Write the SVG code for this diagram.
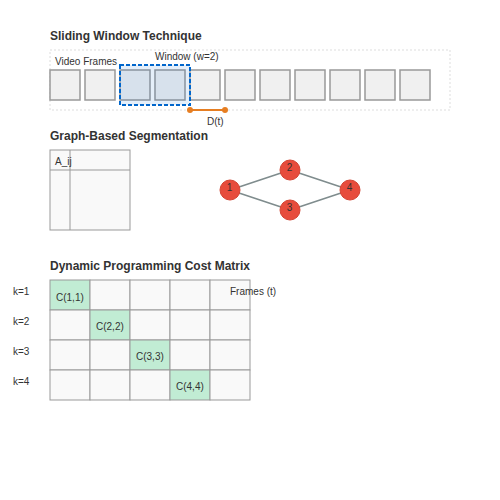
<svg xmlns="http://www.w3.org/2000/svg" width="500" height="500" viewBox="0 0 500 500">
<style>
text{font-family:"Liberation Sans",Arial,sans-serif;fill:#333;font-size:10px}
.title{font-size:12px;font-weight:bold}
.frame{fill:#f0f0f0;stroke:#999;stroke-width:1.5}
.cell{fill:#f9f9f9;stroke:#999;stroke-width:1}
.diag{fill:#c1ecd4;stroke:#999;stroke-width:1}
.node{fill:#e74c3c;stroke:#d44535;stroke-width:1}
.edge{stroke:#7f8c8d;stroke-width:1.5;fill:none}
.lbl{text-anchor:middle}
</style>
<rect width="500" height="500" fill="#ffffff"/>
<g id="sliding-window">
<text class="title" x="50" y="40">Sliding Window Technique</text>
<rect x="50" y="50" width="400" height="60" fill="none" stroke="#ddd" stroke-width="1" stroke-dasharray="2,2"/>
<text x="55" y="65">Video Frames</text>
<rect class="frame" x="50" y="70" width="30" height="30"/>
<rect class="frame" x="85" y="70" width="30" height="30"/>
<rect class="frame" x="120" y="70" width="30" height="30"/>
<rect class="frame" x="155" y="70" width="30" height="30"/>
<rect class="frame" x="190" y="70" width="30" height="30"/>
<rect class="frame" x="225" y="70" width="30" height="30"/>
<rect class="frame" x="260" y="70" width="30" height="30"/>
<rect class="frame" x="295" y="70" width="30" height="30"/>
<rect class="frame" x="330" y="70" width="30" height="30"/>
<rect class="frame" x="365" y="70" width="30" height="30"/>
<rect class="frame" x="400" y="70" width="30" height="30"/>
<rect id="window" x="120" y="65" width="70" height="40" fill="#0066cc" fill-opacity="0.1" stroke="#0066cc" stroke-width="2" stroke-dasharray="4,2"/>
<text x="155" y="60">Window (w=2)</text>
<line x1="190" y1="110" x2="225" y2="110" stroke="#e67e22" stroke-width="2"/>
<circle cx="190" cy="110" r="3" fill="#e67e22"/>
<circle cx="225" cy="110" r="3" fill="#e67e22"/>
<text x="207" y="125">D(t)</text>
</g>
<g id="graph-segmentation">
<text class="title" x="50" y="140">Graph-Based Segmentation</text>
<g id="affinity-matrix">
<rect x="50" y="150" width="80" height="80" fill="#f9f9f9" stroke="#999" stroke-width="1"/>
<line x1="50" y1="170" x2="130" y2="170" stroke="#999" stroke-width="1"/>
<line x1="70" y1="150" x2="70" y2="230" stroke="#999" stroke-width="1"/>
<text x="55" y="165">A_ij</text>
</g>
<g id="connectors">
<line class="edge" x1="230" y1="190" x2="290" y2="170"/>
<line class="edge" x1="230" y1="190" x2="290" y2="210"/>
<line class="edge" x1="290" y1="170" x2="350" y2="190"/>
<line class="edge" x1="290" y1="210" x2="350" y2="190"/>
</g>
<g id="node1"><circle class="node" cx="230" cy="190" r="10"/><text class="lbl" x="229.5" y="191">1</text></g>
<g id="node2"><circle class="node" cx="290" cy="170" r="10"/><text class="lbl" x="289.5" y="171">2</text></g>
<g id="node3"><circle class="node" cx="290" cy="210" r="10"/><text class="lbl" x="289.5" y="211">3</text></g>
<g id="node4"><circle class="node" cx="350" cy="190" r="10"/><text class="lbl" x="349.5" y="191">4</text></g>
</g>
<g id="dp-matrix">
<text class="title" x="50" y="270">Dynamic Programming Cost Matrix</text>
<rect class="diag" x="50" y="280" width="40" height="30"/>
<rect class="cell" x="90" y="280" width="40" height="30"/>
<rect class="cell" x="130" y="280" width="40" height="30"/>
<rect class="cell" x="170" y="280" width="40" height="30"/>
<rect class="cell" x="210" y="280" width="40" height="30"/>
<rect class="cell" x="50" y="310" width="40" height="30"/>
<rect class="diag" x="90" y="310" width="40" height="30"/>
<rect class="cell" x="130" y="310" width="40" height="30"/>
<rect class="cell" x="170" y="310" width="40" height="30"/>
<rect class="cell" x="210" y="310" width="40" height="30"/>
<rect class="cell" x="50" y="340" width="40" height="30"/>
<rect class="cell" x="90" y="340" width="40" height="30"/>
<rect class="diag" x="130" y="340" width="40" height="30"/>
<rect class="cell" x="170" y="340" width="40" height="30"/>
<rect class="cell" x="210" y="340" width="40" height="30"/>
<rect class="cell" x="50" y="370" width="40" height="30"/>
<rect class="cell" x="90" y="370" width="40" height="30"/>
<rect class="cell" x="130" y="370" width="40" height="30"/>
<rect class="diag" x="170" y="370" width="40" height="30"/>
<rect class="cell" x="210" y="370" width="40" height="30"/>
<text x="56" y="301">C(1,1)</text>
<text x="96" y="330">C(2,2)</text>
<text x="136" y="360">C(3,3)</text>
<text x="176" y="390">C(4,4)</text>
<text x="13" y="295">k=1</text>
<text x="13" y="325">k=2</text>
<text x="13" y="355">k=3</text>
<text x="13" y="385">k=4</text>
<text x="230" y="295">Frames (t)</text>
</g>
</svg>
